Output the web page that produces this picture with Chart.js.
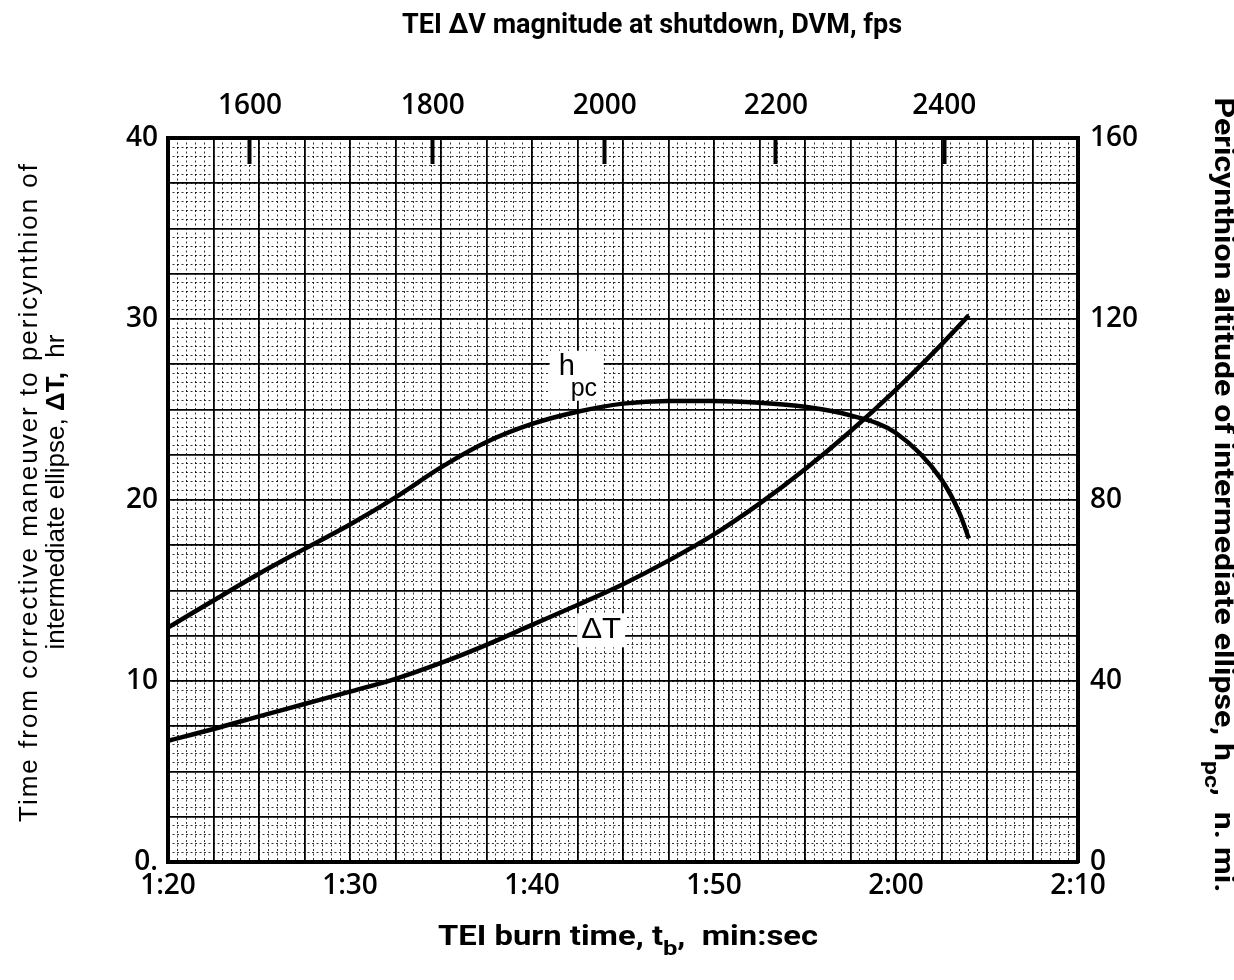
<!DOCTYPE html>
<html>
<head>
<meta charset="utf-8">
<script src="https://cdn.jsdelivr.net/npm/chart.js@4.4.1/dist/chart.umd.min.js"></script>
<style>
html,body{margin:0;padding:0;background:#fff;}
#wrap{width:1234px;height:980px;position:relative;}
</style>
</head>
<body>
<div id="wrap"><canvas id="c"></canvas></div>
<script>
// ---------- data ----------
// TEI burn time, seconds (1:20 = 80 s)
const deltaTTime   = [80, 82.5, 85, 87.5, 90, 92.5, 95, 97.5, 100, 102.5, 105, 107.5, 110, 112.5, 115, 117.5, 120, 122.5, 124];
// Time from corrective maneuver to pericynthion, hr (left axis)
const deltaTValues = [6.7, 7.35, 8.05, 8.73, 9.41, 10.12, 11.0, 12.0, 13.1, 14.2, 15.35, 16.65, 18.1, 19.8, 21.7, 23.8, 26.1, 28.6, 30.2];
const hpcTime      = [80, 82.5, 85, 87.5, 90, 92.5, 95, 97.5, 100, 102.5, 105, 107.5, 110, 112.5, 115, 117.5, 120, 122.5, 123.5, 124];
// Pericynthion altitude, n. mi. (right axis)
const hpcValues    = [51.8, 57.8, 63.7, 69.2, 74.6, 80.6, 87.2, 92.8, 96.8, 99.5, 101.3, 101.9, 101.9, 101.5, 100.6, 98.7, 94.8, 84.5, 77.0, 71.5];

// Top axis: TEI delta-V magnitude (fps) and the burn time where each tick sits
const dvmTickLabels = ['1600', '1800', '2000', '2200', '2400'];
const dvmTickTimes  = [84.5, 94.55, 104.0, 113.4, 122.65];

// Tick labels
const burnTimeLabels = {80: '1:20', 90: '1:30', 100: '1:40', 110: '1:50', 120: '2:00', 130: '2:10'};
const leftTickLabels = {0: '0.', 10: '10', 20: '20', 30: '30', 40: '40'};
const rightTickLabels = ['0', '40', '80', '120', '160'];

// Titles
const topTitle = [{t: 'TEI \u0394V magnitude at shutdown, DVM, fps'}];
const bottomTitle = [{t: 'TEI burn time, t'}, {t: 'b', sub: true}, {t: ',  min:sec'}];
const leftTitle1 = [{t: 'Time from corrective maneuver to pericynthion of'}];
const leftTitle2 = [{t: 'intermediate ellipse, '}, {t: '\u0394T,', bold: true}, {t: '  hr'}];
const rightTitle = [{t: 'Pericynthion altitude of intermediate ellipse, h'}, {t: 'pc', sub: true}, {t: ',  n. mi.'}];
const deltaTLabel = [{t: '\u0394T'}];

// ---------- chart ----------
const FAM_T = 'Roboto, "Liberation Sans", sans-serif';
const FAM_L = '"Liberation Sans", Arial, sans-serif';
const TICKFONT = {family: '"Open Sans", "DejaVu Sans", sans-serif', size: 28, weight: '600'};

function fontStr(size, weight, fam) { return (weight || 'normal') + ' ' + size + 'px ' + fam; }

// mode: 'scale' stretches horizontally to targetW, 'space' adds letter spacing to reach targetW
function drawRich(ctx, segs, cx, cy, rot, size, weight, fam, targetW, mode) {
  ctx.save();
  ctx.translate(cx, cy);
  ctx.rotate(rot);
  let w = 0, n = 0;
  segs.forEach(s => {
    const sz = s.sub ? size * 0.78 : size;
    ctx.font = fontStr(sz, s.bold ? 'bold' : weight, fam);
    s._w = ctx.measureText(s.t).width;
    w += s._w; n += s.t.length;
  });
  let ls = 0;
  if (targetW && mode === 'space' && 'letterSpacing' in ctx) {
    ls = (targetW - w) / n;
    ctx.letterSpacing = ls + 'px';
  } else if (targetW) {
    ctx.scale(targetW / w, 1);
  }
  const total = w + ls * n;
  let x = -total / 2;
  ctx.textBaseline = 'middle';
  ctx.textAlign = 'left';
  ctx.fillStyle = '#000';
  segs.forEach(s => {
    const sz = s.sub ? size * 0.78 : size;
    ctx.font = fontStr(sz, s.bold ? 'bold' : weight, fam);
    ctx.fillText(s.t, x, s.sub ? size * 0.45 : 0);
    x += s._w + ls * s.t.length;
  });
  ctx.restore();
}

const titlesPlugin = {
  id: 'titles',
  afterDraw(chart) {
    const ctx = chart.ctx;
    drawRich(ctx, topTitle, 652, 26, 0, 27, 'bold', FAM_T, 500, 'scale');
    drawRich(ctx, bottomTitle, 628, 938, 0, 27, 'bold', FAM_T, 380, 'scale');
    drawRich(ctx, leftTitle1, 30, 492, -Math.PI / 2, 26, 'normal', FAM_L, 660, 'space');
    drawRich(ctx, leftTitle2, 57, 492, -Math.PI / 2, 26, 'normal', FAM_L, 0, 'none');
    drawRich(ctx, rightTitle, 1222, 495, Math.PI / 2, 27, 'bold', FAM_T, 795, 'scale');
  }
};

const curveLabelPlugin = {
  id: 'curveLabels',
  afterDatasetsDraw(chart) {
    const ctx = chart.ctx;
    const xs = chart.scales.x, ys = chart.scales.y;
    // h_pc label
    let px = xs.getPixelForValue(102.4), py = ys.getPixelForValue(26.7);
    ctx.save();
    ctx.fillStyle = '#fff';
    ctx.fillRect(px - 26, py - 28, 54, 50);
    ctx.font = fontStr(29, 'normal', FAM_L);
    ctx.fillStyle = '#000';
    ctx.textBaseline = 'middle';
    ctx.fillText('h', px - 17, py - 12);
    ctx.font = fontStr(25, 'normal', FAM_L);
    ctx.fillText('pc', px - 5, py + 10);
    ctx.restore();
    // delta T label
    px = xs.getPixelForValue(103.8); py = ys.getPixelForValue(12.8);
    ctx.save();
    ctx.fillStyle = '#fff';
    ctx.fillRect(px - 24, py - 17, 48, 34);
    ctx.restore();
    drawRich(ctx, deltaTLabel, px, py, 0, 29, 'normal', FAM_L, 40, 'scale');
  }
};

const ctx = document.getElementById('c');
new Chart(ctx, {
  type: 'line',
  data: {
    datasets: [
      {
        label: '\u0394T',
        data: deltaTTime.map((t, i) => ({x: t, y: deltaTValues[i]})),
        xAxisID: 'x', yAxisID: 'y',
        borderColor: '#000', borderWidth: 4.5, pointRadius: 0,
        cubicInterpolationMode: 'monotone', fill: false
      },
      {
        label: 'h_pc',
        data: hpcTime.map((t, i) => ({x: t, y: hpcValues[i]})),
        xAxisID: 'x', yAxisID: 'yR',
        borderColor: '#000', borderWidth: 4.5, pointRadius: 0,
        cubicInterpolationMode: 'monotone', fill: false
      }
    ]
  },
  options: {
    responsive: true,
    maintainAspectRatio: false,
    animation: false,
    events: [],
    layout: {padding: 0},
    plugins: {legend: {display: false}, tooltip: {enabled: false}, title: {display: false}},
    scales: {
      xMinor: {
        type: 'linear', position: 'bottom', min: 80, max: 130, weight: -1, z: -2,
        ticks: {display: false, stepSize: 0.5},
        grid: {color: 'rgba(0,0,0,0.8)', lineWidth: 1, drawTicks: false},
        border: {display: false, dash: [2, 2.5]},
        afterFit(s) { s.height = 0; }
      },
      yMinor: {
        type: 'linear', position: 'left', min: 0, max: 40, weight: -1, z: -2,
        ticks: {display: false, stepSize: 0.5},
        grid: {color: 'rgba(0,0,0,0.8)', lineWidth: 1, drawTicks: false},
        border: {display: false, dash: [2, 2.5]},
        afterFit(s) { s.width = 0; }
      },
      x: {
        type: 'linear', position: 'bottom', min: 80, max: 130, weight: 1,
        ticks: {
          stepSize: 2.5, autoSkip: false, maxRotation: 0, padding: 7,
          color: '#000', font: TICKFONT,
          callback: v => burnTimeLabels[v] || ''
        },
        grid: {color: '#000', lineWidth: 1.8, drawTicks: false},
        border: {display: true, color: '#000', width: 4},
        afterFit(s) { s.height = 118; }
      },
      xTop: {
        type: 'linear', position: 'top', min: 80, max: 130,
        afterBuildTicks(s) { s.ticks = dvmTickTimes.map(v => ({value: v})); },
        ticks: {
          autoSkip: false, maxRotation: 0, padding: 41,
          color: '#000', font: TICKFONT,
          callback: (v, i) => dvmTickLabels[i]
        },
        grid: {drawOnChartArea: false, drawTicks: true, tickLength: -26, tickWidth: 4, tickColor: '#000', color: '#000'},
        border: {display: true, color: '#000', width: 4},
        afterFit(s) { s.height = 138; }
      },
      y: {
        type: 'linear', position: 'left', min: 0, max: 40, weight: 1,
        ticks: {
          stepSize: 2.5, autoSkip: false, padding: 10,
          color: '#000', font: TICKFONT,
          callback: v => (leftTickLabels[v] !== undefined ? leftTickLabels[v] : '')
        },
        grid: {color: '#000', lineWidth: 1.8, drawTicks: false},
        border: {display: true, color: '#000', width: 4},
        afterFit(s) { s.width = 168; }
      },
      yR: {
        type: 'linear', position: 'right', min: 0, max: 160,
        ticks: {
          stepSize: 40, autoSkip: false, padding: 12,
          color: '#000', font: TICKFONT,
          callback: (v, i) => rightTickLabels[i]
        },
        grid: {drawOnChartArea: false, drawTicks: false},
        border: {display: true, color: '#000', width: 4},
        afterFit(s) { s.width = 156; }
      }
    }
  },
  plugins: [curveLabelPlugin, titlesPlugin]
});
</script>
</body>
</html>
